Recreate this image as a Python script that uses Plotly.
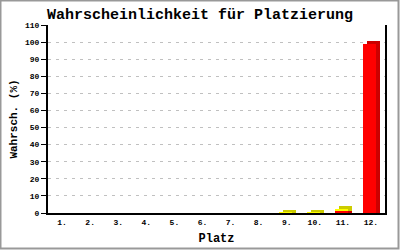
import plotly.graph_objects as go

categories = ["1.", "2.", "3.", "4.", "5.", "6.", "7.", "8.", "9.", "10.", "11.", "12."]
red_values = [0, 0, 0, 0, 0, 0, 0, 0, 0, 0, 1.0, 99.0]
yellow_values = [0, 0, 0, 0, 0, 0, 0, 0, 0.3, 0.3, 1.3, 0]
y_ticks = list(range(0, 111, 10))

DEPTH_Y = 1.6
W, H = 400, 250
L, R, T, B = 48, 15, 25, 37

fig = go.Figure()

def add_series(values, bases, front, side):
    depth_base = [b if v > 0 else None for v, b in zip(values, bases)]
    depth_h = [v + DEPTH_Y if v > 0 else None for v in values]
    fig.add_trace(go.Bar(x=categories, y=depth_h, base=depth_base, width=0.46, offset=-0.14,
                         marker=dict(color=side, line=dict(width=0)), hoverinfo="skip"))
    fig.add_trace(go.Bar(x=categories, y=[v if v > 0 else None for v in values], base=bases,
                         width=0.46, offset=-0.28, marker=dict(color=front, line=dict(width=0))))

add_series(red_values, [0] * len(red_values), "#ff0000", "#cc0000")
add_series(yellow_values, red_values, "#ffff00", "#cccc00")

fig.update_layout(
    width=W, height=H, barmode="overlay", showlegend=False,
    margin=dict(l=L, r=R, t=T, b=B),
    paper_bgcolor="white", plot_bgcolor="white",
    title=dict(text="<b>Wahrscheinlichkeit für Platzierung</b>", x=0.5, xanchor="center",
               y=1 - 14 / H, yanchor="middle",
               font=dict(family="Liberation Mono", size=15, color="black")),
    font=dict(family="Liberation Mono", color="black"),
    bargap=0,
)
fig.update_xaxes(
    type="category", showline=True, linecolor="black", linewidth=2, ticks="",
    tickfont=dict(size=8, family="Liberation Mono", weight="bold"),
    title=dict(text="<b>Platz</b>", font=dict(size=12), standoff=8),
    showgrid=False, zeroline=False, automargin=False,
)
fig.update_yaxes(
    range=[0, 110], tickvals=y_ticks, showline=True, mirror=True, linecolor="black", linewidth=2,
    ticks="outside", ticklen=5, tickcolor="black", tickwidth=1,
    tickfont=dict(size=8, family="Liberation Mono", weight="bold"),
    showgrid=True, gridcolor="#c0c0c0", griddash="3px,5px", gridwidth=1,
    zeroline=False, automargin=False,
    title=dict(text="<b>Wahrsch. (%)</b>", font=dict(size=11), standoff=5),
)

pw, ph = W - L - R, H - T - B
def px(x): return (x - L) / pw
def py(y): return (H - B - y) / ph
fig.add_shape(type="rect", xref="paper", yref="paper",
              x0=px(0.5), x1=px(398.5), y0=py(0.5), y1=py(248.5),
              line=dict(color="#999999", width=2), layer="below")

fig.write_html("out.html")
